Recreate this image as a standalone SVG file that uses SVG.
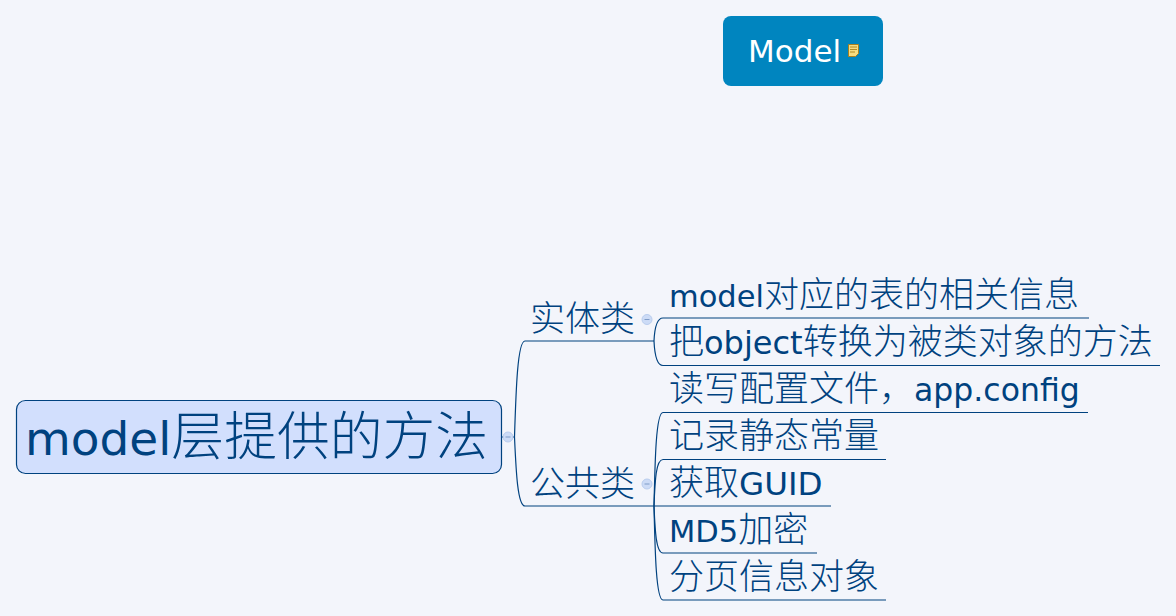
<svg xmlns="http://www.w3.org/2000/svg" width="1176" height="616" viewBox="0 0 1176 616">
<style>
text{font-family:"DejaVu Sans","Noto Sans CJK SC",sans-serif;fill:#00427f}
.c{font-family:"Noto Sans CJK SC","DejaVu Sans",sans-serif;font-weight:300}
.t{font-size:30.5px}.t .c{font-size:35px}
.l{fill:none;stroke:#00427f;stroke-width:1.2}
.k{fill:#ccdbf6;stroke:#b9cdee;stroke-width:1}
.m{stroke:#7f9cc8;stroke-width:1}
</style>
<rect width="1176" height="616" fill="#f3f5fb"/>
<g id="connectors">
<path class="l" d="M501.500 437H514"/>
<path class="l" d="M514.500 437C516 390 517.500 341 525 341H654"/>
<path class="l" d="M514.500 437C516 470 517.500 506 525 506H654"/>
<path class="l" d="M654 341C654.500 330 656 318 663 318H1089"/>
<path class="l" d="M654 341C654.500 352 656 365.500 663 365.500H1160"/>
<path class="l" d="M654 506C655 460 656 412.500 663 412.500H1088"/>
<path class="l" d="M654 506C655 480 656 459.500 663 459.500H886"/>
<path class="l" d="M654 506H831"/>
<path class="l" d="M654 506C655 530 656 553 663 553H817"/>
<path class="l" d="M654 506C655 550 656 600 663 600H886"/>
</g>
<g id="root">
<rect x="16.500" y="400.500" width="485" height="73" rx="9" fill="#d2dffd" stroke="#00427f" stroke-width="1.200"/>
<text x="25" y="455" font-size="47">model<tspan class="c" font-size="52.800">层提供的方法</tspan></text>
<circle class="k" cx="508" cy="437" r="5"/><path class="m" d="M505.500 437H510.500"/>
</g>
<g id="model">
<rect x="723" y="16" width="160" height="70" rx="8" fill="#0085bf"/>
<text x="748" y="62" font-size="31" style="fill:#fff">Model</text>
<path d="M848.500 44.500H858.500V53.500L855.500 56.500H848.500Z" fill="#f6dc80" stroke="#a8801f"/>
<path d="M850 47H857M850 49.500H857M850 52H855" stroke="#b08a25" fill="none"/>
</g>
<g id="entity">
<text class="c" x="530" y="331" font-size="35">实体类</text>
<circle class="k" cx="647" cy="319.500" r="5"/><path class="m" d="M644.500 319.500H649.500"/>
</g>
<g id="public">
<text class="c" x="530" y="496" font-size="35">公共类</text>
<circle class="k" cx="647" cy="484" r="5"/><path class="m" d="M644.500 484H649.500"/>
</g>
<g id="n1"><text class="t" x="669" y="306.500">model<tspan class="c">对应的表的相关信息</tspan></text></g>
<g id="n2"><text class="t" x="669" y="353.500"><tspan class="c">把</tspan><tspan font-size="32">object</tspan><tspan class="c">转换为被类对象的方法</tspan></text></g>
<g id="n3"><text class="t" x="669" y="400.500"><tspan class="c">读写配置文件，</tspan><tspan font-size="31.500">app.config</tspan></text></g>
<g id="n4"><text class="t" x="669" y="448"><tspan class="c">记录静态常量</tspan></text></g>
<g id="n5"><text class="t" x="669" y="494.500"><tspan class="c">获取</tspan><tspan font-size="32.500">GUID</tspan></text></g>
<g id="n6"><text class="t" x="669" y="541.500">MD5<tspan class="c">加密</tspan></text></g>
<g id="n7"><text class="t" x="669" y="589"><tspan class="c">分页信息对象</tspan></text></g>
</svg>
